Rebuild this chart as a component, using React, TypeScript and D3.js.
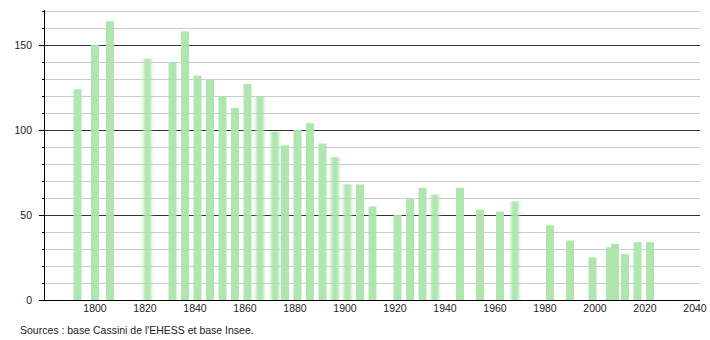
import React from "react";
import * as d3 from "d3";

const years = [1793, 1800, 1806, 1821, 1831, 1836, 1841, 1846, 1851, 1856, 1861, 1866, 1872, 1876, 1881, 1886, 1891, 1896, 1901, 1906, 1911, 1921, 1926, 1931, 1936, 1946, 1954, 1962, 1968, 1982, 1990, 1999, 2006, 2008, 2012, 2017, 2022];
const population = [124, 150, 164, 142, 140, 158, 132, 130, 120, 113, 127, 120, 99, 91, 100, 104, 92, 84, 68, 68, 55, 50, 60, 66, 62, 66, 53, 52, 58, 44, 35, 25, 31, 33, 27, 34, 34];
const softYears = [1821, 1866, 1872, 1896, 1901, 1936, 1968];
const yTickLabels = [0, 50, 100, 150];
const xTickLabels = [1800, 1820, 1840, 1860, 1880, 1900, 1920, 1940, 1960, 1980, 2000, 2020, 2040];
const sourceText = "Sources : base Cassini de l'EHESS et base Insee.";

export default function App() {
  const W = 710, H = 340;
  const x = d3.scaleLinear().domain([1780, 2040]).range([45, 695]);
  const y = d3.scaleLinear().domain([0, 170]).range([300, 11]);
  const gridVals = d3.range(10, 171, 10);
  const minorTicks = d3.range(0, 171, 10).filter((v) => v % 50 !== 0);
  const font = "'Liberation Sans', Arial, sans-serif";
  const barW = 8;
  return (
    <svg width={W} height={H} style={{ position: "absolute", left: 0, top: 0, background: "#fff" }}>
      <defs>
        <filter id="soft" x="-50%" y="-5%" width="200%" height="110%">
          <feGaussianBlur stdDeviation="1.6 0.6" />
        </filter>
      </defs>
      {gridVals.map((v) => (
        <line key={"g" + v} x1={45} x2={700} y1={Math.round(y(v)) + 0.5} y2={Math.round(y(v)) + 0.5}
          stroke={v % 50 === 0 ? "#333" : "#ccc"} strokeWidth={1} />
      ))}
      {years.map((yr, i) => {
        const soft = softYears.includes(yr);
        return (
          <rect key={"b" + yr} x={x(yr) - barW / 2} width={barW} y={y(population[i])}
            height={y(0) - y(population[i])} fill="#ade4ab" opacity={0.95}
            filter={soft ? "url(#soft)" : undefined} />
        );
      })}
      <line x1={44.5} x2={44.5} y1={10} y2={300} stroke="#000" strokeWidth={1} />
      <line x1={39} x2={700} y1={300.5} y2={300.5} stroke="#000" strokeWidth={1} />
      {yTickLabels.map((v) => (
        <g key={"yt" + v}>
          <line x1={39} x2={44} y1={Math.round(y(v)) + 0.5} y2={Math.round(y(v)) + 0.5} stroke="#000" />
          <text x={32} y={y(v)} dy="0.35em" textAnchor="end" fontFamily={font} fontSize={10.5} fill="#222">{v}</text>
        </g>
      ))}
      {minorTicks.map((v) => (
        <line key={"mt" + v} x1={42} x2={44} y1={Math.round(y(v)) + 0.5} y2={Math.round(y(v)) + 0.5} stroke="#000" />
      ))}
      {xTickLabels.map((t) => (
        <text key={"xt" + t} x={x(t)} y={312} textAnchor="middle" fontFamily={font} fontSize={10.5} fill="#222">{t}</text>
      ))}
      <text x={20} y={334} fontFamily={font} fontSize={10.5} fill="#222">{sourceText}</text>
    </svg>
  );
}
